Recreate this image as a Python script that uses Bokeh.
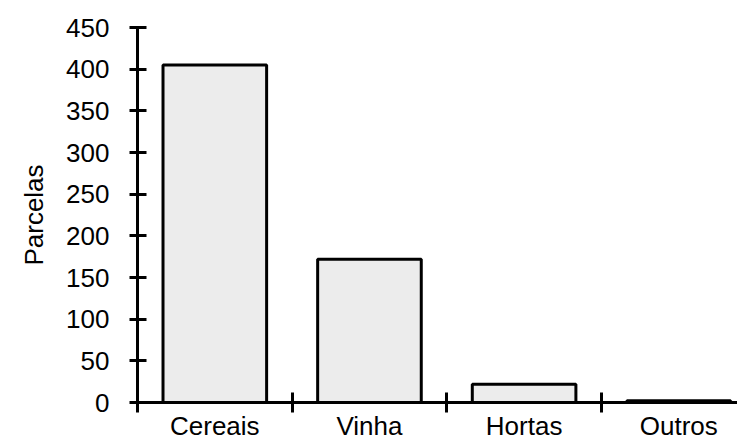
from bokeh.plotting import figure
from bokeh.models import ColumnDataSource, FixedTicker, Range1d
from bokeh.embed import file_html
from bokeh.resources import INLINE

categories = ["Cereais", "Vinha", "Hortas", "Outros"]
parcelas = [405, 172, 22, 2]
y_ticks = [0, 50, 100, 150, 200, 250, 300, 350, 400, 450]

centers = [i + 0.5 for i in range(len(categories))]
boundaries = [float(i) for i in range(len(categories) + 1)]

src = ColumnDataSource(dict(x=centers, top=parcelas, cat=categories))

p = figure(width=737, height=443, output_backend="svg", toolbar_location=None,
           x_range=Range1d(0, 3.88), y_range=Range1d(0, 450),
           min_border_left=137, min_border_right=0, min_border_top=27, min_border_bottom=40)
p.outline_line_color = None
p.xgrid.visible = False
p.ygrid.visible = False
p.background_fill_color = "white"
p.border_fill_color = "white"

p.vbar(x="x", top="top", bottom=0, width=0.67, source=src,
       fill_color="#ececec", line_color="black", line_width=3)

FONT = "Liberation Sans"

# y axis
ya = p.yaxis[0]
ya.ticker = FixedTicker(ticks=y_ticks)
ya.axis_line_width = 3
ya.major_tick_line_width = 3
ya.major_tick_in = 9
ya.major_tick_out = 8
ya.minor_tick_line_color = None
ya.major_label_text_font = FONT
ya.major_label_text_font_size = "26px"
ya.major_label_text_color = "black"
ya.major_label_standoff = 20
ya.axis_label = "Parcelas"
ya.axis_label_text_font = FONT
ya.axis_label_text_font_size = "26px"
ya.axis_label_text_font_style = "normal"
ya.axis_label_text_color = "black"
ya.axis_label_standoff = 14

# x axis: labels at category centres, ticks at boundaries
xa = p.xaxis[0]
xa.ticker = FixedTicker(ticks=centers, minor_ticks=boundaries)
xa.major_label_overrides = {c: n for c, n in zip(centers, categories)}
xa.axis_line_width = 3
xa.major_tick_in = 0
xa.major_tick_out = 0
xa.major_tick_line_color = None
xa.minor_tick_line_width = 3
xa.minor_tick_line_color = "black"
xa.minor_tick_in = 10
xa.minor_tick_out = 10
xa.major_label_text_font = FONT
xa.major_label_text_font_size = "26px"
xa.major_label_text_color = "black"
xa.major_label_standoff = -2

open("out.html", "w").write(file_html(p, INLINE))
